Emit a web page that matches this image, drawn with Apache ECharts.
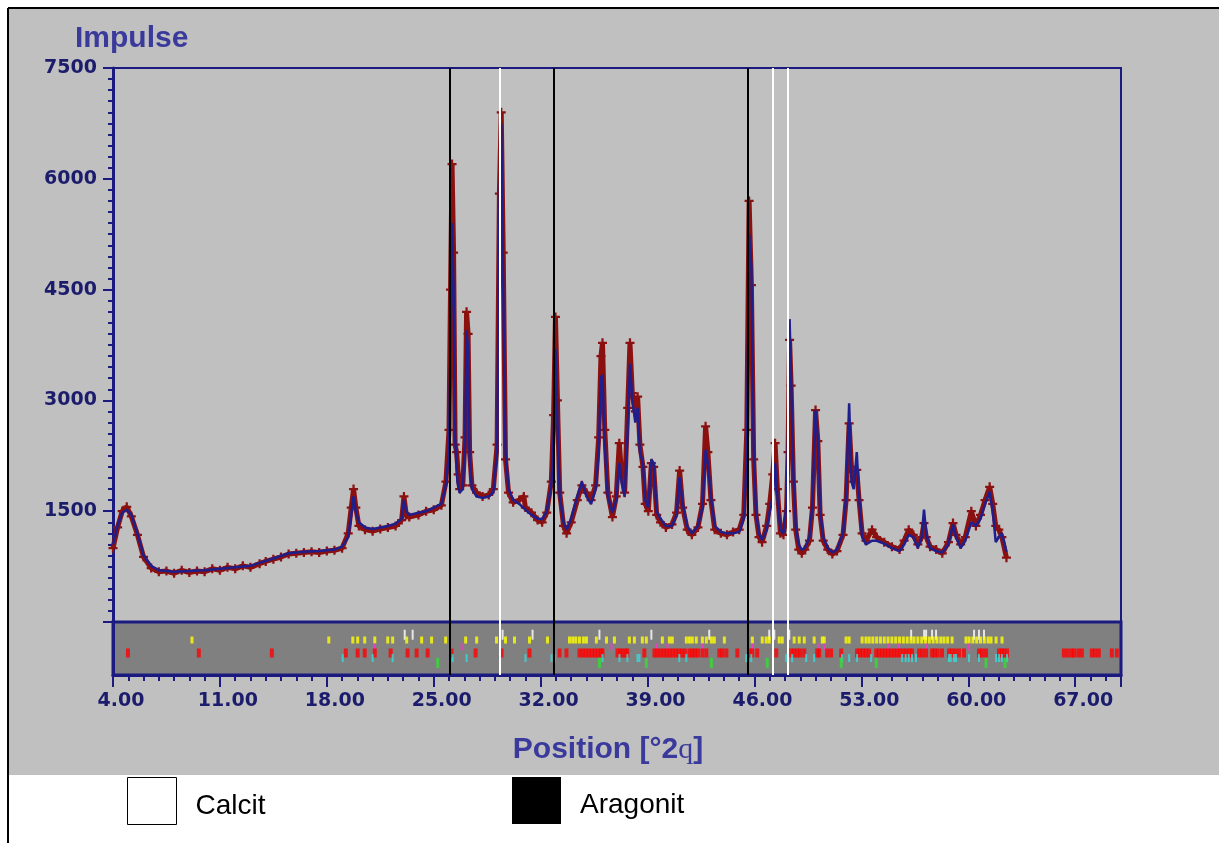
<!DOCTYPE html>
<html>
<head>
    <meta charset="utf-8">
    <title>Diffraktogramm</title>
    <script src="https://cdn.jsdelivr.net/npm/echarts@6.0.0/dist/echarts.min.js"></script>
    <style>
        body { margin: 0; background: #fff; }
        #main { width: 1219px; height: 843px; }
    </style>
</head>
<body>
<div id="main"></div>
<script type="text/javascript">
    // position [°2theta] / impulse
    var calcProfile = [
        [4.0, 1050], [4.3, 1300], [4.6, 1480], [4.9, 1520], [5.2, 1450], [5.6, 1200], [6.0, 900], [6.5, 760],
        [7.0, 700], [8.0, 680], [9.0, 690], [10.0, 700], [11.0, 720], [12.0, 740], [13.0, 760], [13.6, 800],
        [14.5, 860], [15.5, 930], [16.5, 950], [17.5, 960], [18.5, 980], [19.0, 1020], [19.4, 1150], [19.6, 1450],
        [19.75, 1700], [19.9, 1500], [20.1, 1350], [20.5, 1280], [21.0, 1260], [21.5, 1280], [22.0, 1300],
        [22.5, 1330], [22.9, 1400], [23.05, 1650], [23.2, 1500], [23.4, 1450], [24.0, 1480], [24.5, 1500],
        [25.0, 1550], [25.5, 1600], [25.8, 1850], [26.0, 2300], [26.1, 3800], [26.2, 5400], [26.3, 4500],
        [26.4, 2500], [26.55, 1900], [26.7, 1750], [26.9, 1800], [27.05, 2400], [27.15, 3950], [27.25, 3700],
        [27.35, 2200], [27.5, 1800], [27.8, 1700], [28.2, 1680], [28.6, 1700], [28.9, 1750], [29.15, 2300],
        [29.3, 5500], [29.42, 6750], [29.55, 4500], [29.7, 2300], [29.9, 1800], [30.2, 1650], [30.6, 1600],
        [31.0, 1520], [31.4, 1450], [31.8, 1400], [32.1, 1390], [32.4, 1500], [32.7, 1850], [32.85, 2500],
        [32.97, 3700], [33.1, 2700], [33.25, 1700], [33.5, 1350], [33.7, 1250], [34.0, 1400], [34.4, 1700],
        [34.7, 1900], [35.0, 1700], [35.3, 1600], [35.6, 1800], [35.8, 2300], [35.95, 3300], [36.05, 3350],
        [36.2, 2400], [36.4, 1700], [36.7, 1480], [36.95, 1650], [37.15, 2150], [37.3, 1900], [37.5, 1700],
        [37.7, 2600], [37.85, 3500], [38.0, 3000], [38.2, 2700], [38.35, 2900], [38.5, 2300], [38.7, 2150],
        [38.85, 1650], [39.05, 1550], [39.25, 2200], [39.4, 2150], [39.6, 1500], [39.85, 1400], [40.2, 1300],
        [40.6, 1300], [40.9, 1450], [41.1, 1960], [41.3, 1600], [41.6, 1300], [41.9, 1200], [42.3, 1300],
        [42.6, 1550], [42.8, 2330], [42.95, 2150], [43.15, 1700], [43.4, 1300], [43.8, 1220], [44.2, 1200],
        [44.6, 1200], [45.0, 1220], [45.3, 1400], [45.5, 2200], [45.65, 5250], [45.8, 4800], [45.95, 2300],
        [46.1, 1500], [46.3, 1200], [46.5, 1110], [46.8, 1250], [47.0, 1500], [47.2, 1700], [47.35, 2150],
        [47.5, 1700], [47.7, 1250], [47.9, 1200], [48.1, 1600], [48.2, 2500], [48.3, 4100], [48.4, 3300],
        [48.55, 2000], [48.7, 1300], [48.9, 1050], [49.1, 980], [49.3, 1000], [49.6, 1150], [49.8, 1600],
        [50.0, 2870], [50.15, 2500], [50.3, 1500], [50.5, 1150], [50.8, 1000], [51.1, 940], [51.4, 980],
        [51.8, 1200], [52.0, 1700], [52.2, 2960], [52.35, 1900], [52.5, 1800], [52.7, 2300], [52.85, 1700],
        [53.05, 1150], [53.3, 1050], [53.7, 1100], [54.0, 1100], [54.5, 1060], [55.0, 1000], [55.5, 960],
        [55.8, 1050], [56.1, 1180], [56.4, 1150], [56.7, 1000], [56.95, 1150], [57.1, 1520], [57.25, 1200],
        [57.5, 1000], [57.9, 960], [58.3, 940], [58.7, 1050], [59.0, 1320], [59.2, 1150], [59.5, 1000],
        [59.8, 1100], [60.2, 1350], [60.5, 1300], [60.8, 1400], [61.1, 1600], [61.4, 1760], [61.6, 1500],
        [61.8, 1080], [62.0, 1150], [62.2, 1200], [62.5, 950]
    ];

    var obsProfile = [
        [4.0, 1000], [4.3, 1280], [4.6, 1500], [4.9, 1560], [5.2, 1430], [5.6, 1180], [6.0, 880], [6.5, 730],
        [7.0, 680], [7.5, 690], [8.0, 660], [8.5, 700], [9.0, 670], [9.5, 690], [10.0, 680], [10.5, 720],
        [11.0, 700], [11.5, 740], [12.0, 720], [12.5, 760], [13.0, 740], [13.6, 790], [14.0, 820], [14.5, 850],
        [15.0, 880], [15.5, 920], [16.0, 930], [16.5, 940], [17.0, 950], [17.5, 940], [18.0, 960], [18.5, 970],
        [19.0, 1000], [19.4, 1200], [19.6, 1550], [19.75, 1800], [19.9, 1550], [20.1, 1300], [20.5, 1250],
        [21.0, 1230], [21.5, 1260], [22.0, 1280], [22.5, 1300], [22.9, 1380], [23.05, 1700], [23.2, 1450],
        [23.4, 1420], [24.0, 1450], [24.5, 1500], [25.0, 1520], [25.5, 1580], [25.8, 1900], [26.0, 2600],
        [26.1, 4500], [26.2, 6200], [26.3, 5000], [26.4, 2400], [26.5, 2300], [26.6, 2000], [26.7, 1800],
        [26.9, 1850], [27.05, 2500], [27.15, 4200], [27.25, 3900], [27.35, 2300], [27.5, 1850], [27.8, 1750],
        [28.2, 1700], [28.6, 1720], [28.9, 1800], [29.15, 2400], [29.3, 5800], [29.42, 6900], [29.55, 5000],
        [29.7, 2200], [29.9, 1750], [30.2, 1620], [30.6, 1650], [30.9, 1700], [31.0, 1550], [31.4, 1480],
        [31.8, 1380], [32.1, 1350], [32.4, 1480], [32.7, 1900], [32.85, 2800], [32.97, 4130], [33.1, 3000],
        [33.25, 1750], [33.5, 1300], [33.7, 1200], [34.0, 1350], [34.4, 1650], [34.7, 1850], [35.0, 1750],
        [35.3, 1650], [35.6, 1850], [35.8, 2500], [35.95, 3600], [36.05, 3780], [36.2, 2600], [36.4, 1750],
        [36.7, 1420], [36.95, 1700], [37.15, 2420], [37.3, 2000], [37.5, 1750], [37.7, 2900], [37.85, 3780],
        [38.0, 3100], [38.2, 2850], [38.35, 3050], [38.5, 2400], [38.7, 2100], [38.85, 1600], [39.05, 1500],
        [39.25, 2150], [39.4, 2100], [39.6, 1450], [39.85, 1350], [40.2, 1280], [40.6, 1320], [40.9, 1480],
        [41.1, 2050], [41.3, 1550], [41.6, 1250], [41.9, 1180], [42.3, 1280], [42.6, 1600], [42.8, 2650],
        [42.95, 2300], [43.15, 1650], [43.4, 1250], [43.8, 1200], [44.2, 1180], [44.6, 1220], [45.0, 1250],
        [45.3, 1450], [45.5, 2600], [45.65, 5700], [45.8, 4560], [45.95, 2200], [46.1, 1450], [46.3, 1150],
        [46.5, 1080], [46.8, 1300], [47.0, 1600], [47.2, 2000], [47.35, 2420], [47.5, 1800], [47.7, 1200],
        [47.9, 1180], [48.1, 1500], [48.2, 2300], [48.3, 3820], [48.4, 3200], [48.55, 1900], [48.7, 1250],
        [48.9, 980], [49.1, 930], [49.3, 980], [49.6, 1100], [49.8, 1550], [50.0, 2870], [50.15, 2450],
        [50.3, 1450], [50.5, 1100], [50.8, 980], [51.1, 920], [51.4, 960], [51.8, 1180], [52.0, 1650],
        [52.2, 2690], [52.35, 2100], [52.5, 1900], [52.7, 2060], [52.85, 1650], [53.05, 1200], [53.3, 1100],
        [53.7, 1250], [54.0, 1150], [54.5, 1080], [55.0, 1020], [55.5, 980], [55.8, 1100], [56.1, 1250],
        [56.4, 1180], [56.7, 1050], [56.95, 1150], [57.1, 1340], [57.25, 1150], [57.5, 1020], [57.9, 980],
        [58.3, 930], [58.7, 1080], [59.0, 1340], [59.2, 1180], [59.5, 1050], [59.8, 1150], [60.2, 1500],
        [60.5, 1300], [60.8, 1450], [61.1, 1650], [61.4, 1830], [61.6, 1600], [61.8, 1300], [62.0, 1250],
        [62.2, 1150], [62.5, 870]
    ];

    // phase marker lines
    var aragonitLines = [26.04, 32.84, 45.53];
    var calcitLines = [29.31, 47.23, 48.21];

    // reference pattern sticks (position in °2theta)
    var yellowSticks = [9.17, 18.13, 19.70, 20.02, 20.48, 21.14, 21.99, 22.31, 23.23, 24.21, 24.86, 25.78,
        27.09, 27.81, 29.11, 29.70, 30.29, 31.27, 32.45, 33.89, 34.1, 34.3, 34.54, 34.8, 35.0, 35.65, 36.31,
        36.83, 37.81, 38.14, 38.66, 38.92, 39.97, 40.43, 40.62, 41.54, 41.74, 41.93, 42.19, 42.59, 42.85,
        43.18, 43.37, 44.03, 45.86, 46.51, 46.77, 46.97, 47.62, 47.82, 48.60, 48.93, 49.26, 49.91, 50.44,
        50.57, 52.00, 52.20, 53.05, 53.3, 53.51, 53.75, 54.0, 54.25, 54.5, 54.75, 55.0, 55.25, 55.5, 55.75,
        56.0, 56.25, 56.45, 56.7, 56.95, 57.2, 57.45, 57.7, 57.95, 58.2, 58.41, 58.65, 58.94, 59.85, 60.05,
        60.3, 60.55, 60.8, 61.05, 61.3, 61.49, 61.82, 62.21];
    var redSticks = [4.98, 9.62, 14.40, 19.24, 20.02, 20.48, 21.14, 22.18, 23.29, 23.88, 24.60, 26.17, 27.74,
        29.44, 31.27, 33.24, 33.69, 34.54, 34.75, 34.95, 35.15, 35.35, 35.55, 35.75, 35.95, 36.05, 37.03, 37.2,
        37.36, 37.55, 37.68, 38.79, 39.45, 39.65, 39.85, 40.05, 40.25, 40.45, 40.65, 40.85, 41.05, 41.25,
        41.45, 41.74, 41.93, 42.1, 42.3, 42.59, 42.85, 43.70, 43.9, 44.16, 44.88, 45.66, 45.86, 46.18, 47.43,
        48.41, 48.6, 48.8, 49.0, 49.26, 50.11, 50.24, 50.76, 51.02, 51.68, 52.72, 52.9, 53.1, 53.3, 53.51,
        53.97, 54.15, 54.35, 54.55, 54.75, 54.95, 55.15, 55.35, 55.55, 55.75, 55.95, 56.15, 56.32, 56.78,
        57.0, 57.24, 57.63, 57.8, 58.0, 58.28, 58.74, 58.95, 59.15, 59.4, 59.72, 60.70, 60.9, 61.16, 62.01,
        62.2, 62.34, 62.54, 66.26, 66.5, 66.75, 66.92, 67.2, 67.44, 68.09, 68.3, 68.55, 69.40, 69.73];
    var cyanSticks = [19.04, 21.00, 22.31, 26.24, 27.15, 31.01, 32.71, 32.91, 36.05, 37.16, 37.68, 38.34,
        38.47, 41.08, 41.54, 45.46, 45.79, 48.08, 48.47, 49.39, 49.91, 51.74, 52.20, 52.72, 53.64, 55.67,
        55.9, 56.1, 56.32, 56.58, 58.74, 58.85, 59.07, 59.20, 60.05, 60.70, 61.82, 62.01, 62.2, 62.54];
    var greenSticks = [25.26, 35.85, 38.92, 43.18, 46.84, 51.68, 53.97, 61.16, 62.41];
    var magentaSticks = [21.14, 26.83, 36.64, 39.58, 40.30, 42.59, 45.86, 50.24, 50.57, 54.82, 55.47, 57.30, 60.05];
    var whiteSticks = [23.10, 23.62, 29.51, 31.47, 35.85, 39.25, 43.04, 46.97, 47.30, 48.28, 56.26, 57.11,
        57.24, 57.63, 57.89, 60.38, 60.70, 61.03];

    var xTickLabels = ['4.00', '11.00', '18.00', '25.00', '32.00', '39.00', '46.00', '53.00', '60.00', '67.00'];

    var navy = '#1a1a80';
    var labelColor = '#1c1c6c';
    var titleColor = '#3a3a9c';

    function stickSeries(list, row, color, size) {
        return {
            type: 'scatter',
            xAxisIndex: 1,
            yAxisIndex: 1,
            silent: true,
            symbol: 'rect',
            symbolSize: size,
            itemStyle: {color: color},
            data: list.map(function (x) { return [x, row]; }),
            z: 3
        };
    }

    function phaseLine(name, list, color, axisIndex) {
        return {
            name: name,
            type: 'line',
            xAxisIndex: axisIndex,
            yAxisIndex: axisIndex,
            data: [],
            itemStyle: {color: name === 'Calcit' ? '#ffffff' : '#000000'},
            markLine: {
                silent: true,
                symbol: 'none',
                label: {show: false},
                lineStyle: {color: color, width: 2, type: 'solid'},
                data: list.map(function (x) { return {xAxis: x}; })
            },
            z: 5
        };
    }

    var legendRich = {
        t: {fontFamily: 'Liberation Sans', fontSize: 28, color: '#000', padding: [10, 0, 0, 14]}
    };

    var chart = echarts.init(document.getElementById('main'));

    var option = {
        animation: false,
        backgroundColor: '#ffffff',
        graphic: [
            {type: 'rect', z: -10, shape: {x: 9, y: 9, width: 1210, height: 766}, style: {fill: '#c0c0c0'}},
            {type: 'line', z: 10, shape: {x1: 8, y1: 8, x2: 8, y2: 843}, style: {stroke: '#000', lineWidth: 2}},
            {type: 'line', z: 10, shape: {x1: 8, y1: 8, x2: 1219, y2: 8}, style: {stroke: '#000', lineWidth: 2}}
        ],
        title: {
            text: 'Impulse',
            left: 70,
            top: 19,
            textStyle: {fontFamily: 'Liberation Sans', fontSize: 30, fontWeight: 'bold', color: titleColor}
        },
        legend: [
            {
                left: 122, top: 772, itemWidth: 49, itemHeight: 47, selectedMode: false,
                data: [{name: 'Calcit', icon: 'rect', itemStyle: {color: '#ffffff', borderColor: '#000', borderWidth: 1}}],
                formatter: '{t|{name}}',
                textStyle: {rich: legendRich}
            },
            {
                left: 507, top: 772, itemWidth: 49, itemHeight: 47, selectedMode: false,
                data: [{name: 'Aragonit', icon: 'rect', itemStyle: {color: '#000000'}}],
                formatter: '{t|{name}}',
                textStyle: {rich: legendRich}
            }
        ],
        grid: [
            {left: 113, top: 68, width: 1008, height: 554, show: true, borderColor: navy, borderWidth: 2, backgroundColor: 'transparent'},
            {left: 113, top: 622, width: 1008, height: 53, show: true, borderColor: navy, borderWidth: 3, backgroundColor: '#808080'}
        ],
        xAxis: [
            {gridIndex: 0, type: 'value', min: 4, max: 70, interval: 7, show: false},
            {
                gridIndex: 1, type: 'value', min: 4, max: 70, interval: 7,
                axisLine: {show: true, lineStyle: {color: navy, width: 3}},
                axisTick: {show: true, length: 12, lineStyle: {color: navy, width: 2}},
                minorTick: {show: true, splitNumber: 7, length: 6, lineStyle: {color: navy, width: 2}},
                splitLine: {show: false},
                axisLabel: {
                    margin: 17,
                    fontFamily: 'DejaVu Sans', fontWeight: 'bold', fontSize: 19, color: labelColor,
                    padding: [0, 0, 0, 16],
                    formatter: function (v) {
                        var i = Math.round((v - 4) / 7);
                        return (Math.abs(v - 4 - i * 7) < 0.01 && i < xTickLabels.length) ? xTickLabels[i] : '';
                    }
                },
                name: '{b|Position [°2}{q|q}{b|]}',
                nameLocation: 'middle',
                nameGap: 60,
                nameTextStyle: {
                    padding: [0, 18, 0, 0],
                    rich: {
                        b: {fontFamily: 'Liberation Sans', fontSize: 30, fontWeight: 'bold', color: titleColor},
                        q: {fontFamily: 'Liberation Serif', fontSize: 30, color: titleColor}
                    }
                }
            }
        ],
        yAxis: [
            {
                gridIndex: 0, type: 'value', min: 0, max: 7500, interval: 1500,
                axisLine: {show: true, lineStyle: {color: navy, width: 3}},
                axisTick: {show: true, length: 10, lineStyle: {color: navy, width: 2}},
                minorTick: {show: true, splitNumber: 10, length: 5, lineStyle: {color: navy, width: 2}},
                splitLine: {show: false},
                axisLabel: {
                    margin: 16,
                    fontFamily: 'DejaVu Sans', fontWeight: 'bold', fontSize: 19, color: labelColor,
                    formatter: function (v) { return v === 0 ? '' : String(v); }
                }
            },
            {
                gridIndex: 1, type: 'value', min: 0, max: 10,
                axisLine: {show: true, lineStyle: {color: navy, width: 3}},
                axisTick: {show: false}, axisLabel: {show: false}, splitLine: {show: false}
            }
        ],
        series: [
            {
                name: 'observed',
                type: 'line',
                xAxisIndex: 0, yAxisIndex: 0,
                data: obsProfile,
                silent: true,
                showSymbol: true,
                symbol: 'path://M3,0H5V3H8V5H5V8H3V5H0V3H3Z',
                symbolSize: 9,
                itemStyle: {color: '#8b1010'},
                lineStyle: {color: '#8b1010', width: 5},
                z: 2
            },
            {
                name: 'calculated',
                type: 'line',
                xAxisIndex: 0, yAxisIndex: 0,
                data: calcProfile,
                silent: true,
                showSymbol: false,
                lineStyle: {color: '#1e1e8c', width: 2.5},
                z: 3
            },
            stickSeries(whiteSticks, 7.6, '#ffffff', [2, 10]),
            stickSeries(yellowSticks, 6.6, '#ffff00', [3, 7]),
            stickSeries(magentaSticks, 5.3, '#ff33cc', [2, 7]),
            stickSeries(redSticks, 4.15, '#ff0000', [4, 9]),
            stickSeries(cyanSticks, 3.2, '#33dddd', [2, 8]),
            stickSeries(greenSticks, 2.3, '#33dd33', [3, 10]),
            phaseLine('Aragonit', aragonitLines, '#000000', 0),
            phaseLine('Calcit', calcitLines, '#ffffff', 0),
            phaseLine('Aragonit', aragonitLines, '#000000', 1),
            phaseLine('Calcit', calcitLines, '#ffffff', 1)
        ]
    };

    chart.setOption(option);
</script>
</body>
</html>
